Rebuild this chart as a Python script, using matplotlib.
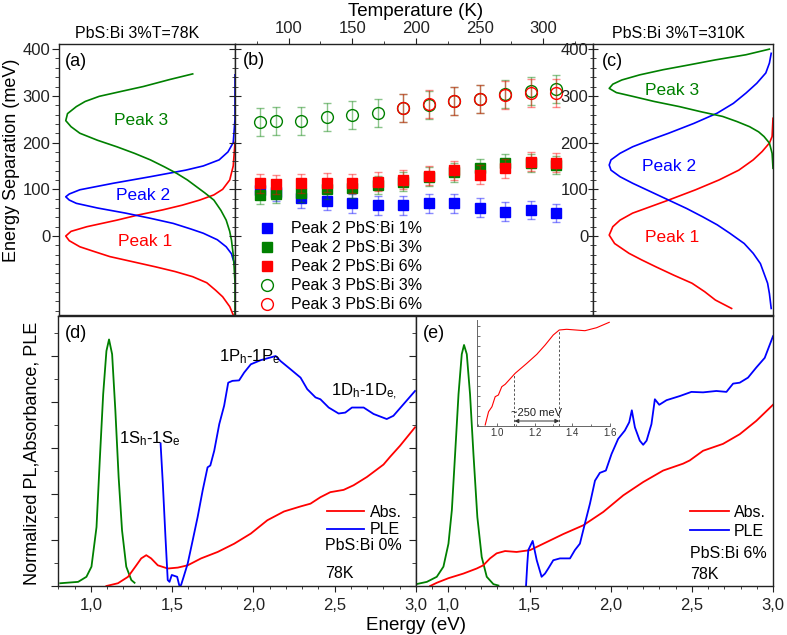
import matplotlib
matplotlib.use('Agg')
import matplotlib.pyplot as plt
from matplotlib.ticker import MultipleLocator, FixedLocator, FuncFormatter, NullFormatter

plt.rcParams['font.family'] = ['Liberation Sans', 'DejaVu Sans']
plt.rcParams['mathtext.default'] = 'regular'
plt.rcParams['axes.linewidth'] = 1.0
plt.rcParams['axes.edgecolor'] = '#222222'
plt.rcParams['xtick.color'] = '#222222'
plt.rcParams['ytick.color'] = '#222222'

RED, BLUE, GREEN = '#ff0000', '#0000ff', '#008000'

# ---------------- panel (a): PbS:Bi 3%, T=78K (energy separation, intensity) ----------
a_p1_mev = [200, 150, 120, 100, 88, 77, 66, 56, 45, 34, 20, 10, 0, -10, -23, -33, -44, -55, -66, -76, -87, -100, -116, -130, -151, -169]
a_p1_int = [0.0, 0.01, 0.03, 0.07, 0.12, 0.2, 0.3, 0.41, 0.55, 0.67, 0.84, 0.93, 0.96, 0.94, 0.88, 0.80, 0.71, 0.58, 0.45, 0.34, 0.24, 0.16, 0.11, 0.07, 0.03, 0.01]
a_p2_mev = [345, 250, 200, 180, 163, 150, 141, 127, 113, 99, 90, 84, 77, 70, 60, 49, 38, 27, 15, 6, -8, -23, -38, -51, -60]
a_p2_int = [0.0, 0.0, 0.01, 0.04, 0.09, 0.18, 0.28, 0.48, 0.69, 0.88, 0.94, 0.96, 0.94, 0.90, 0.78, 0.62, 0.48, 0.35, 0.25, 0.18, 0.10, 0.05, 0.02, 0.01, 0.0]
a_p3_mev = [347, 335, 320, 310, 299, 288, 277, 262, 247, 234, 220, 205, 191, 177, 163, 148, 134, 120, 106, 92, 77, 55, 34, 10, -9, -40, -66, -100, -169]
a_p3_int = [0.24, 0.37, 0.52, 0.64, 0.77, 0.85, 0.90, 0.95, 0.96, 0.93, 0.88, 0.78, 0.67, 0.57, 0.48, 0.40, 0.33, 0.27, 0.22, 0.17, 0.12, 0.08, 0.05, 0.03, 0.02, 0.01, 0.005, 0.0, 0.0]

# ---------------- panel (c): PbS:Bi 3%, T=310K ----------
c_p1_mev = [252, 213, 199, 181, 163, 141, 120, 99, 77, 63, 49, 34, 20, 2, -16, -37, -51, -66, -84, -101, -119, -137, -155]
c_p1_int = [0.0, 0.005, 0.02, 0.06, 0.11, 0.19, 0.30, 0.43, 0.58, 0.68, 0.78, 0.85, 0.89, 0.91, 0.88, 0.80, 0.73, 0.65, 0.55, 0.45, 0.38, 0.32, 0.23]
c_p2_mev = [391, 370, 349, 327, 306, 284, 263, 241, 220, 206, 191, 177, 163, 152, 141, 127, 113, 95, 77, 59, 41, 24, 6, -16, -37, -59, -80, -101, -123, -155]
c_p2_int = [0.01, 0.02, 0.04, 0.09, 0.15, 0.22, 0.31, 0.44, 0.58, 0.68, 0.78, 0.85, 0.90, 0.91, 0.90, 0.85, 0.78, 0.68, 0.58, 0.48, 0.39, 0.31, 0.24, 0.16, 0.11, 0.07, 0.05, 0.03, 0.02, 0.01]
c_p3_mev = [400, 388, 377, 366, 356, 345, 334, 325, 316, 307, 299, 288, 277, 266, 256, 245, 234, 223, 213, 199, 177, 145]
c_p3_int = [0.02, 0.15, 0.32, 0.47, 0.61, 0.74, 0.84, 0.89, 0.91, 0.87, 0.78, 0.66, 0.52, 0.40, 0.28, 0.20, 0.13, 0.08, 0.05, 0.02, 0.005, 0.0]

# ---------------- panel (b): peak separations vs temperature ----------
temps = [78, 90, 110, 130, 150, 170, 190, 210, 230, 250, 270, 290, 310]
p2_bi1 = [99, 95, 81, 75, 70, 66, 66, 70, 70, 61, 52, 56, 49]
p2_bi3 = [88, 91, 93, 100, 102, 109, 116, 127, 136, 145, 156, 156, 152]
p2_bi6 = [113, 111, 113, 114, 113, 116, 121, 129, 141, 131, 145, 159, 157]
p3_bi3 = [245, 247, 247, 254, 259, 264, 273, 281, 288, 294, 304, 311, 315]
temps_p3_bi6 = [190, 210, 230, 250, 270, 290, 310]
p3_bi6 = [274, 283, 288, 294, 301, 307, 306]
err_p2 = 20
err_p3 = 30

# ---------------- panel (d): PbS:Bi 0%, 78K ----------
d_pl_e = [0.812, 0.922, 0.973, 1.004, 1.035, 1.055, 1.076, 1.096, 1.112, 1.131, 1.151, 1.171, 1.192, 1.218, 1.249, 1.269]
d_pl = [0.06, 0.09, 0.2, 0.42, 1.28, 2.73, 4.17, 5.11, 5.36, 5.04, 3.81, 2.37, 1.21, 0.42, 0.13, 0.07]
d_abs_e = [1.096, 1.167, 1.229, 1.280, 1.310, 1.341, 1.371, 1.412, 1.473, 1.535, 1.596, 1.678, 1.780, 1.882, 1.984, 2.086, 2.188, 2.290, 2.351, 2.412, 2.473, 2.555, 2.616, 2.698, 2.800, 2.841, 2.902, 2.994]
d_abs = [0.0, 0.06, 0.2, 0.45, 0.6, 0.67, 0.6, 0.45, 0.38, 0.40, 0.45, 0.6, 0.74, 0.92, 1.14, 1.43, 1.62, 1.73, 1.79, 1.93, 2.04, 2.09, 2.19, 2.37, 2.64, 2.81, 3.05, 3.45]
d_ple_e = [1.429, 1.443, 1.459, 1.473, 1.484, 1.498, 1.514, 1.531, 1.545, 1.555, 1.571, 1.596, 1.627, 1.657, 1.688, 1.718, 1.735, 1.759, 1.790, 1.820, 1.845, 1.871, 1.912, 1.943, 1.984, 2.045, 2.137, 2.167, 2.229, 2.290, 2.331, 2.382, 2.412, 2.463, 2.524, 2.565, 2.606, 2.678, 2.739, 2.820, 2.861, 2.994]
d_ple = [3.10, 2.22, 1.07, 0.13, 0.09, 0.24, 0.22, 0.2, 0.0, 0.02, 0.2, 0.49, 1.0, 1.5, 2.08, 2.58, 2.62, 2.94, 3.52, 3.92, 4.42, 4.46, 4.47, 4.64, 4.82, 4.91, 5.0, 4.89, 4.71, 4.53, 4.28, 4.10, 4.06, 3.88, 3.75, 3.77, 3.88, 3.88, 3.74, 3.63, 3.70, 4.24]

# ---------------- panel (e): PbS:Bi 6%, 78K ----------
e_pl_e = [0.801, 0.867, 0.928, 0.969, 1.0, 1.021, 1.041, 1.062, 1.082, 1.096, 1.113, 1.133, 1.154, 1.178, 1.205, 1.236, 1.277, 1.308]
e_pl = [0.04, 0.09, 0.2, 0.42, 0.92, 1.65, 2.87, 4.17, 5.04, 5.24, 5.04, 4.17, 2.87, 1.5, 0.63, 0.2, 0.04, 0.01]
e_abs_e = [0.887, 0.928, 1.0, 1.092, 1.174, 1.215, 1.256, 1.297, 1.349, 1.42, 1.503, 1.585, 1.708, 1.831, 1.954, 2.077, 2.2, 2.323, 2.446, 2.487, 2.569, 2.692, 2.795, 2.897, 3.0]
e_abs = [0.0, 0.07, 0.17, 0.27, 0.38, 0.45, 0.6, 0.71, 0.76, 0.74, 0.78, 0.92, 1.13, 1.32, 1.61, 1.97, 2.26, 2.51, 2.66, 2.73, 2.94, 3.09, 3.3, 3.59, 3.94]
e_ple_e = [1.478, 1.486, 1.492, 1.519, 1.544, 1.574, 1.595, 1.615, 1.646, 1.687, 1.749, 1.779, 1.81, 1.841, 1.872, 1.903, 1.933, 1.97, 2.005, 2.046, 2.087, 2.114, 2.13, 2.149, 2.179, 2.2, 2.221, 2.251, 2.272, 2.299, 2.344, 2.426, 2.497, 2.569, 2.651, 2.713, 2.754, 2.795, 2.846, 2.897, 2.949, 3.0]
e_ple = [0.0, 0.49, 0.78, 0.98, 0.56, 0.2, 0.27, 0.38, 0.56, 0.6, 0.6, 0.78, 0.92, 1.36, 1.79, 2.29, 2.46, 2.51, 2.87, 3.2, 3.38, 3.56, 3.82, 3.45, 3.16, 3.07, 3.16, 3.52, 4.06, 3.94, 4.04, 4.13, 4.22, 4.21, 4.24, 4.22, 4.4, 4.42, 4.53, 4.75, 4.96, 5.43]

# inset of (e): absorbance zoom
in_e = [0.938, 0.956, 0.974, 0.991, 1.008, 1.026, 1.044, 1.097, 1.159, 1.212, 1.256, 1.299, 1.331, 1.370, 1.467, 1.529, 1.596]
in_abs = [0.05, 1.38, 1.88, 2.88, 3.05, 3.88, 4.12, 5.22, 6.22, 7.12, 8.05, 9.05, 9.55, 9.62, 9.48, 9.78, 10.32]
in_marks_e = [1.093, 1.331]
in_marks_top = [5.15, 9.55]

# ------------------------------------------------------------------------------
W, H = 787, 635
fig = plt.figure(figsize=(W / 100, H / 100), dpi=100)


def rect(x0, y0, x1, y1):
    return [x0 / W, 1 - y1 / H, (x1 - x0) / W, (y1 - y0) / H]


TICK_FS = 12
YLIM_TOP = (-169, 411)
LW_TOP = 1.2
LW_BOT = 1.3

ax_a = fig.add_axes(rect(58.7, 44, 235, 315))
ax_b = fig.add_axes(rect(235, 44, 593, 315))
ax_c = fig.add_axes(rect(593, 44, 773, 315))
ax_d = fig.add_axes(rect(58.3, 316, 416, 586))
ax_e = fig.add_axes(rect(416, 316, 773, 586))
ax_in = fig.add_axes(rect(476.7, 320, 610, 425.5))

# ---- (a)
ax_a.plot(a_p1_int, a_p1_mev, color=RED, lw=LW_TOP)
ax_a.plot(a_p2_int, a_p2_mev, color=BLUE, lw=LW_TOP)
ax_a.plot(a_p3_int, a_p3_mev, color=GREEN, lw=LW_TOP)
ax_a.set_xlim(1.0, 0.0)
ax_a.set_ylim(*YLIM_TOP)
ax_a.yaxis.set_major_locator(FixedLocator([0, 100, 200, 300, 400]))
ax_a.yaxis.set_minor_locator(MultipleLocator(20))
ax_a.tick_params(axis='y', which='both', direction='out', left=True, right=False, labelsize=TICK_FS, pad=1)
ax_a.tick_params(axis='y', which='major', length=5)
ax_a.tick_params(axis='y', which='minor', length=3)
ax_a.tick_params(axis='x', which='both', bottom=False, top=False, labelbottom=False)
ax_a.text(0.035, 0.935, '(a)', transform=ax_a.transAxes, fontsize=13, ha='left', va='center')
ax_a.text(0.535, 247, 'Peak 3', color=GREEN, fontsize=12.5, ha='center', va='center')
ax_a.text(0.52, 86, 'Peak 2', color=BLUE, fontsize=12.5, ha='center', va='center')
ax_a.text(0.507, -12, 'Peak 1', color=RED, fontsize=12.5, ha='center', va='center')

# ---- (b)
ax_b.errorbar(temps, p2_bi1, yerr=err_p2, fmt='none', ecolor=BLUE, alpha=0.45, capsize=3, elinewidth=1)
h1, = ax_b.plot(temps, p2_bi1, 's', color=BLUE, ms=7.5, label='Peak 2 PbS:Bi 1%')
ax_b.errorbar(temps, p2_bi3, yerr=err_p2, fmt='none', ecolor=GREEN, alpha=0.45, capsize=3, elinewidth=1)
h2, = ax_b.plot(temps, p2_bi3, 's', color=GREEN, ms=7.5, label='Peak 2 PbS:Bi 3%')
ax_b.errorbar(temps, p2_bi6, yerr=err_p2, fmt='none', ecolor=RED, alpha=0.45, capsize=3, elinewidth=1)
h3, = ax_b.plot(temps, p2_bi6, 's', color=RED, ms=7.5, label='Peak 2 PbS:Bi 6%')
ax_b.errorbar(temps, p3_bi3, yerr=err_p3, fmt='none', ecolor=GREEN, alpha=0.45, capsize=3, elinewidth=1)
h4, = ax_b.plot(temps, p3_bi3, 'o', mfc='none', mec=GREEN, mew=1.0, ms=8.5, label='Peak 3 PbS:Bi 3%')
ax_b.errorbar(temps_p3_bi6, p3_bi6, yerr=err_p3, fmt='none', ecolor=RED, alpha=0.45, capsize=3, elinewidth=1)
h5, = ax_b.plot(temps_p3_bi6, p3_bi6, 'o', mfc='none', mec=RED, mew=1.0, ms=8.5, label='Peak 3 PbS:Bi 6%')
ax_b.set_xlim(58, 339)
ax_b.set_ylim(*YLIM_TOP)
ax_b.xaxis.tick_top()
ax_b.xaxis.set_major_locator(FixedLocator([100, 150, 200, 250, 300]))
ax_b.xaxis.set_minor_locator(FixedLocator([75, 125, 175, 225, 275, 325]))
ax_b.tick_params(axis='x', which='both', direction='out', top=True, bottom=False, labeltop=True,
                 labelbottom=False, labelsize=TICK_FS, pad=2)
ax_b.tick_params(axis='x', which='major', length=4)
ax_b.tick_params(axis='x', which='minor', length=2.5)
ax_b.yaxis.set_major_locator(FixedLocator([0, 100, 200, 300, 400]))
ax_b.yaxis.set_minor_locator(MultipleLocator(20))
ax_b.tick_params(axis='y', which='both', direction='inout', left=True, right=False, labelleft=False)
ax_b.tick_params(axis='y', which='major', length=8)
ax_b.tick_params(axis='y', which='minor', length=5)
ax_b.text(0.022, 0.94, '(b)', transform=ax_b.transAxes, fontsize=13, ha='left', va='center')
ax_b.legend(handles=[h1, h2, h3, h4, h5], loc='lower left', bbox_to_anchor=(0.067, 0.01),
            frameon=False, fontsize=11.5, handlelength=1.0, handletextpad=1.0,
            labelspacing=0.25, borderpad=0, borderaxespad=0)

# ---- (c)
ax_c.plot(c_p1_int, c_p1_mev, color=RED, lw=LW_TOP)
ax_c.plot(c_p2_int, c_p2_mev, color=BLUE, lw=LW_TOP)
ax_c.plot(c_p3_int, c_p3_mev, color=GREEN, lw=LW_TOP)
ax_c.set_xlim(1.0, 0.0)
ax_c.set_ylim(*YLIM_TOP)
ax_c.yaxis.set_major_locator(FixedLocator([0, 100, 200, 300, 400]))
ax_c.yaxis.set_minor_locator(MultipleLocator(20))
ax_c.tick_params(axis='y', which='both', direction='inout', left=True, right=False, labelsize=TICK_FS, pad=0)
ax_c.tick_params(axis='y', which='major', length=7)
ax_c.tick_params(axis='y', which='minor', length=5)
ax_c.tick_params(axis='x', which='both', bottom=False, top=False, labelbottom=False)
ax_c.text(0.05, 0.935, '(c)', transform=ax_c.transAxes, fontsize=13, ha='left', va='center')
ax_c.text(0.558, 311, 'Peak 3', color=GREEN, fontsize=12.5, ha='center', va='center')
ax_c.text(0.576, 149, 'Peak 2', color=BLUE, fontsize=12.5, ha='center', va='center')
ax_c.text(0.558, -3, 'Peak 1', color=RED, fontsize=12.5, ha='center', va='center')

# ---- bottom panels common
comma_fmt = FuncFormatter(lambda v, p: f'{v:.1f}'.replace('.', ','))
for ax in (ax_d, ax_e):
    ax.set_xlim(0.8, 3.0)
    ax.set_ylim(0, 5.87)
    ax.xaxis.set_major_locator(FixedLocator([1.0, 1.5, 2.0, 2.5, 3.0]))
    ax.xaxis.set_minor_locator(MultipleLocator(0.1))
    ax.xaxis.set_major_formatter(comma_fmt)
    ax.yaxis.set_major_locator(MultipleLocator(1))
    ax.yaxis.set_minor_locator(MultipleLocator(0.5))
    ax.yaxis.set_major_formatter(NullFormatter())
    ax.tick_params(axis='both', which='both', direction='out', top=False, right=False)
    ax.tick_params(axis='x', which='major', length=4, labelsize=TICK_FS, pad=5)
    ax.tick_params(axis='x', which='minor', length=2.5)
    ax.tick_params(axis='y', which='major', length=5)
    ax.tick_params(axis='y', which='minor', length=3)

# ---- (d)
ax_d.plot(d_pl_e, d_pl, color=GREEN, lw=LW_BOT)
la, = ax_d.plot(d_abs_e, d_abs, color=RED, lw=LW_BOT, label='Abs.')
lp, = ax_d.plot(d_ple_e, d_ple, color=BLUE, lw=LW_BOT, label='PLE')
ax_d.text(0.019, 0.937, '(d)', transform=ax_d.transAxes, fontsize=13, ha='left', va='center')
ax_d.text(1.36, 3.2, r'1S$_{h}$-1S$_{e}$', fontsize=12, ha='center', va='center')
ax_d.text(1.98, 4.98, r'1P$_{h}$-1P$_{e}$', fontsize=12, ha='center', va='center')
ax_d.text(2.68, 4.22, r'1D$_{h}$-1D$_{e,}$', fontsize=12, ha='center', va='center')
ax_d.legend(handles=[la, lp], loc='upper left', bbox_to_anchor=(0.752, 0.30), frameon=False,
            fontsize=11.5, handlelength=2.3, handletextpad=0.35, labelspacing=0.15,
            borderpad=0, borderaxespad=0)
ax_d.text(0.746, 0.149, 'PbS:Bi 0%', transform=ax_d.transAxes, fontsize=11.5, ha='left', va='center')
ax_d.text(0.746, 0.048, '78K', transform=ax_d.transAxes, fontsize=11.5, ha='left', va='center')

# ---- (e)
ax_e.plot(e_pl_e, e_pl, color=GREEN, lw=LW_BOT)
lb, = ax_e.plot(e_abs_e, e_abs, color=RED, lw=LW_BOT, label='Abs.')
lq, = ax_e.plot(e_ple_e, e_ple, color=BLUE, lw=LW_BOT, label='PLE')
ax_e.text(0.02, 0.937, '(e)', transform=ax_e.transAxes, fontsize=13, ha='left', va='center')
ax_e.legend(handles=[lb, lq], loc='upper left', bbox_to_anchor=(0.768, 0.30), frameon=False,
            fontsize=11.5, handlelength=2.4, handletextpad=0.35, labelspacing=0.25,
            borderpad=0, borderaxespad=0)
ax_e.text(0.768, 0.119, 'PbS:Bi 6%', transform=ax_e.transAxes, fontsize=11.5, ha='left', va='center')
ax_e.text(0.768, 0.044, '78K', transform=ax_e.transAxes, fontsize=11.5, ha='left', va='center')

# ---- inset
ax_in.set_facecolor('none')
ax_in.plot(in_e, in_abs, color=RED, lw=0.8)
ax_in.vlines(in_marks_e, 0, in_marks_top, colors='#555555', linestyles=(0, (2.5, 2)), lw=0.7)
ax_in.annotate('', xy=(in_marks_e[1], 0.45), xytext=(in_marks_e[0], 0.45),
               arrowprops=dict(arrowstyle='<|-|>', color='#333333', lw=0.7, mutation_scale=6,
                               shrinkA=0, shrinkB=0))
ax_in.text((in_marks_e[0] + in_marks_e[1]) / 2, 1.3, '~250 meV', fontsize=8, ha='center', va='center',
           color='#222222')
ax_in.set_xlim(0.893, 1.6)
ax_in.set_ylim(0, 10.55)
for s in ('top', 'right'):
    ax_in.spines[s].set_visible(False)
for s in ('left', 'bottom'):
    ax_in.spines[s].set_color('#666666')
    ax_in.spines[s].set_linewidth(0.7)
ax_in.xaxis.set_major_locator(FixedLocator([1.0, 1.2, 1.4, 1.6]))
ax_in.xaxis.set_minor_locator(MultipleLocator(0.1))
ax_in.xaxis.set_major_formatter(FuncFormatter(lambda v, p: f'{v:.1f}'))
ax_in.yaxis.set_major_locator(MultipleLocator(1))
ax_in.yaxis.set_major_formatter(NullFormatter())
ax_in.tick_params(axis='both', which='both', direction='in', colors='#555555', labelcolor='#333333',
                  labelsize=7, width=0.6, pad=2)
ax_in.tick_params(axis='both', which='major', length=2.5)
ax_in.tick_params(axis='both', which='minor', length=1.5)

# ---- figure-level labels
fig.text(136.7 / W, 1 - 34 / H, 'PbS:Bi 3%T=78K', fontsize=11.5, ha='center', va='center')
fig.text(678 / W, 1 - 34 / H, 'PbS:Bi 3%T=310K', fontsize=11.5, ha='center', va='center')
fig.text(416 / W, 1 - 12 / H, 'Temperature (K)', fontsize=13.5, ha='center', va='center')
fig.text(12 / W, 1 - 160 / H, 'Energy Separation (meV)', fontsize=13, rotation=90, ha='center', va='center')
fig.text(32 / W, 1 - 453 / H, 'Normalized PL,Absorbance, PLE', fontsize=13, rotation=90, ha='center', va='center')
fig.text(416 / W, 1 - 625 / H, 'Energy (eV)', fontsize=13.5, ha='center', va='center')

fig.savefig('out.png', dpi=100)
